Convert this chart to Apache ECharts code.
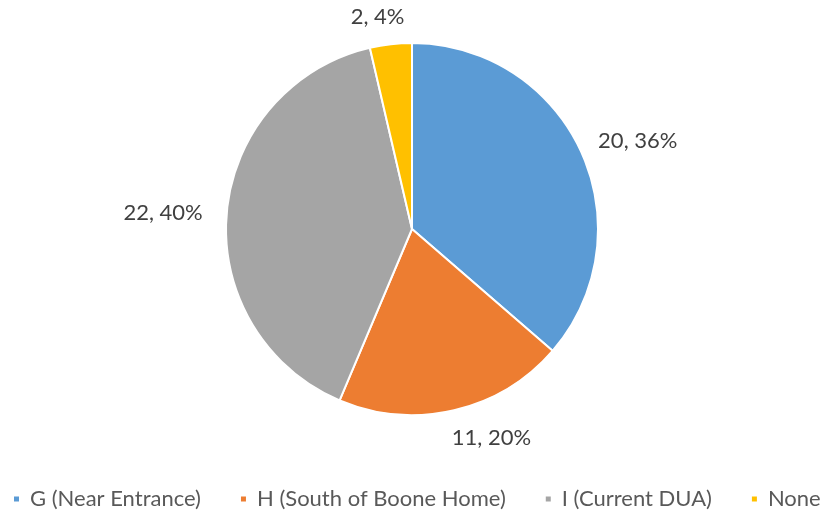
<!DOCTYPE html>
<html><head><meta charset="utf-8">
<script src="https://cdn.jsdelivr.net/npm/echarts@6/dist/echarts.min.js"></script>
<style>html,body{margin:0;padding:0;background:#fff}#c{width:826px;height:510px}</style>
</head><body><div id="c"></div>
<script>
const categories = ['G (Near Entrance)', 'H (South of Boone Home)', 'I (Current DUA)', 'None'];
const values = [20, 11, 22, 2];
const colors = ['#5B9BD5', '#ED7D31', '#A5A5A5', '#FFC000'];

// label nudges (style only), keyed by slice order
const labelNudge = [[1, -6], [-10, 16], [-7, 1], [20, -15]];

const chart = echarts.init(document.getElementById('c'), null, {renderer: 'canvas'});
const total = values.reduce((a, b) => a + b, 0);
chart.setOption({
  animation: false,
  color: colors,
  textStyle: {fontFamily: 'Lato'},
  legend: {
    bottom: 0,
    left: 12,
    width: 1000,
    padding: 0,
    itemWidth: 7, itemHeight: 7, itemGap: 38,
    icon: 'rect',
    textStyle: {fontFamily: 'Lato', fontSize: 22, color: '#595959', padding: [0, 0, 0, 5]},
    data: categories
  },
  series: [{
    type: 'pie',
    center: [412, 229],
    radius: 186,
    startAngle: 90,
    clockwise: true,
    itemStyle: {borderColor: '#fff', borderWidth: 2},
    label: {
      show: true,
      position: 'outside',
      fontFamily: 'Lato', fontSize: 22, color: '#404040',
      formatter: p => p.value + ', ' + Math.round(p.value / total * 100) + '%'
    },
    labelLine: {show: false, length: 12, length2: 0},
    labelLayout: p => ({dx: labelNudge[p.dataIndex][0], dy: labelNudge[p.dataIndex][1]}),
    data: categories.map((n, i) => ({name: n, value: values[i]}))
  }]
});
</script></body></html>
